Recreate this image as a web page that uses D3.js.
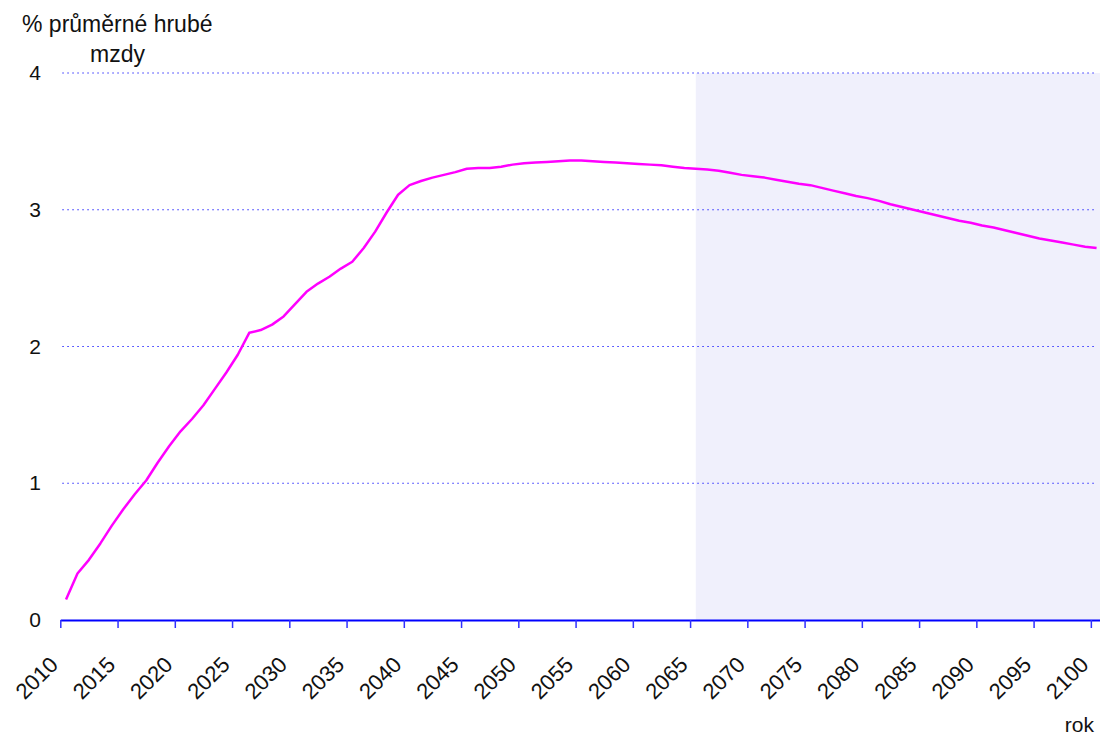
<!DOCTYPE html>
<html>
<head>
<meta charset="utf-8">
<script src="https://cdn.jsdelivr.net/npm/d3@7"></script>
<style>
  body { margin: 0; background: #fff; }
  svg { display: block; font-family: "Liberation Sans", Arial, sans-serif; }
</style>
</head>
<body>
<div id="chart"></div>
<script>
// yearly values, % of average gross wage
const years = d3.range(2010, 2101);
const values = [
  0.15, 0.34, 0.44, 0.56, 0.69, 0.81, 0.92, 1.02, 1.15, 1.27,
  1.38, 1.47, 1.57, 1.69, 1.81, 1.94, 2.10, 2.12, 2.16, 2.22,
  2.31, 2.40, 2.46, 2.51, 2.57, 2.62, 2.72, 2.84, 2.98, 3.11,
  3.18, 3.21, 3.235, 3.255, 3.275, 3.30, 3.305, 3.305, 3.315, 3.33,
  3.34, 3.345, 3.35, 3.355, 3.36, 3.36, 3.355, 3.35, 3.345, 3.34,
  3.335, 3.33, 3.325, 3.315, 3.305, 3.30, 3.295, 3.285, 3.27, 3.255,
  3.245, 3.235, 3.22, 3.205, 3.19, 3.18, 3.16, 3.14, 3.12, 3.10,
  3.085, 3.065, 3.04, 3.02, 3.00, 2.98, 2.96, 2.94, 2.92, 2.905,
  2.885, 2.87, 2.85, 2.83, 2.81, 2.79, 2.775, 2.76, 2.745, 2.73,
  2.72
];
const xTicks = d3.range(2010, 2101, 5);
const yTicks = [0, 1, 2, 3, 4];
const forecastFrom = 2065; // shaded part
const yTitle = ['% průměrné hrubé', 'mzdy'];
const xTitle = 'rok';

const width = 1100, height = 735;
const svg = d3.select('#chart').append('svg')
  .attr('width', width).attr('height', height);

// years are bands: tick at the start of a year, point in its middle
const x = d3.scaleLinear().domain([2010, 2101]).range([60.3, 1102.3]);
const y = d3.scaleLinear().domain([0, 4]).range([620, 73]);

// forecast shading
svg.append('rect')
  .attr('x', x(forecastFrom + 0.5))
  .attr('y', y(4))
  .attr('width', width - x(forecastFrom + 0.5))
  .attr('height', y(0) - y(4))
  .attr('fill', '#f0f0fc');

// dotted grid
svg.append('g')
  .selectAll('line')
  .data(yTicks.filter(d => d > 0))
  .join('line')
  .attr('x1', x(2010) + 2).attr('x2', x(2100.5))
  .attr('y1', d => y(d)).attr('y2', d => y(d))
  .attr('stroke', '#3030ff')
  .attr('stroke-width', 1.2)
  .attr('stroke-dasharray', '1.5,3.5');

// y labels
svg.append('g')
  .selectAll('text')
  .data(yTicks)
  .join('text')
  .attr('x', 41)
  .attr('y', d => y(d) + 7)
  .attr('text-anchor', 'end')
  .attr('font-size', 21)
  .attr('fill', '#111')
  .text(d => d);

// x axis
const xAxis = svg.append('g')
  .attr('transform', `translate(0,${y(0)})`)
  .call(d3.axisBottom(x).tickValues(xTicks).tickSize(8).tickSizeOuter(0).tickFormat(''));
xAxis.select('.domain').attr('stroke', '#0000ff').attr('stroke-width', 2);
xAxis.selectAll('.tick line').attr('stroke', '#3030ff').attr('stroke-width', 1.5);

svg.append('g')
  .selectAll('text')
  .data(xTicks)
  .join('text')
  .attr('transform', d => `translate(${x(d) - 1},666) rotate(-45)`)
  .attr('text-anchor', 'end')
  .attr('font-size', 22)
  .attr('fill', '#111')
  .text(d => d);

// series line
const line = d3.line()
  .x((d, i) => x(years[i] + 0.5))
  .y(d => y(d));

svg.append('path')
  .datum(values)
  .attr('d', line)
  .attr('fill', 'none')
  .attr('stroke', '#ff00ff')
  .attr('stroke-width', 2.5)
  .attr('stroke-linejoin', 'round');

// titles
svg.append('text')
  .attr('x', 22).attr('y', 32)
  .attr('font-size', 23).attr('fill', '#111')
  .text(yTitle[0]);
svg.append('text')
  .attr('x', 90).attr('y', 62)
  .attr('font-size', 23).attr('fill', '#111')
  .text(yTitle[1]);
svg.append('text')
  .attr('x', 1094).attr('y', 732)
  .attr('text-anchor', 'end')
  .attr('font-size', 21).attr('fill', '#111')
  .text(xTitle);
</script>
</body>
</html>
